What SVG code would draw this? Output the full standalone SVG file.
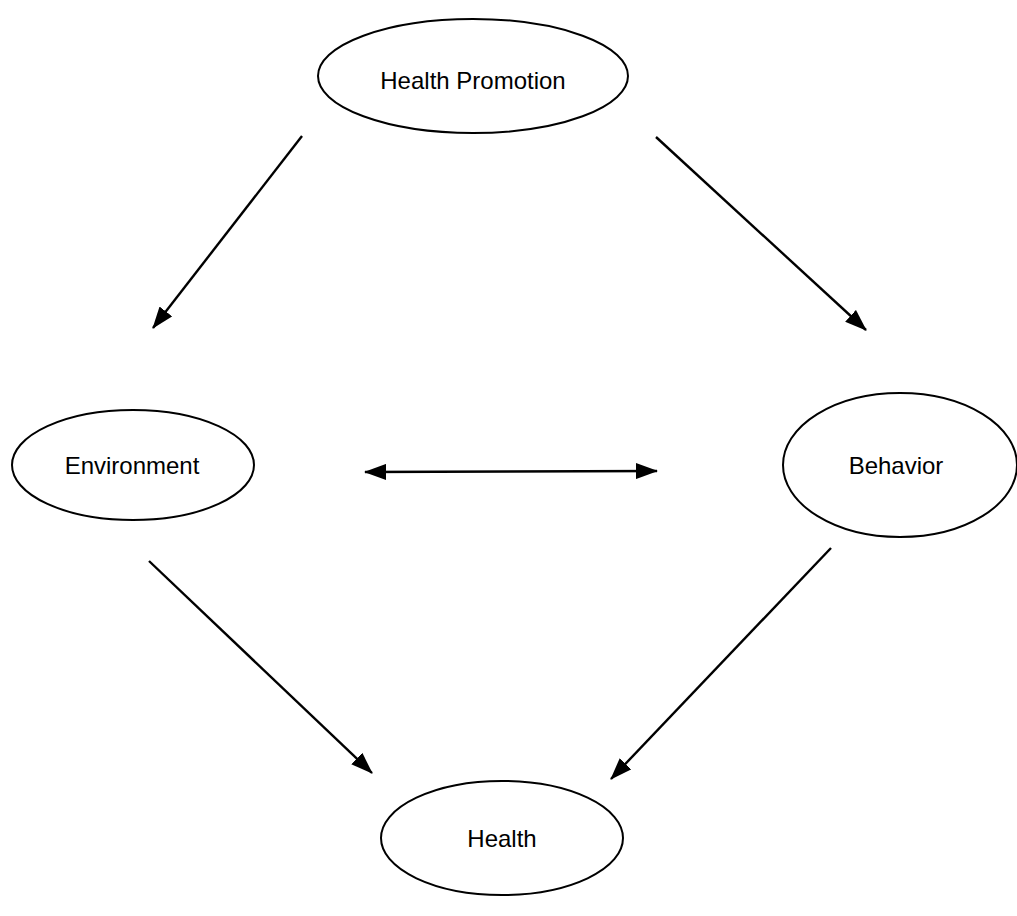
<svg xmlns="http://www.w3.org/2000/svg" width="1017" height="916" viewBox="0 0 1017 916">
<style>
.node ellipse{fill:#fff;stroke:#000;stroke-width:2}
.node text{font-family:"Liberation Sans",Arial,sans-serif;font-size:24px;fill:#000;text-anchor:middle;dominant-baseline:central}
.conn line{stroke:#000;stroke-width:2.4}
</style>
<defs>
<marker id="ah" viewBox="0 0 22 16" refX="21" refY="8" markerWidth="22" markerHeight="16" markerUnits="userSpaceOnUse" orient="auto-start-reverse">
<path d="M0,0 L22,8 L0,16 Z" fill="#000"/>
</marker>
</defs>
<rect width="1017" height="916" fill="#fff"/>
<g id="health-promotion" class="node">
<ellipse cx="473" cy="76" rx="155" ry="57"/>
<text x="473" y="80">Health Promotion</text>
</g>
<g id="environment" class="node">
<ellipse cx="133" cy="465" rx="121" ry="55"/>
<text x="132" y="465">Environment</text>
</g>
<g id="behavior" class="node">
<ellipse cx="900" cy="465" rx="117" ry="72"/>
<text x="896" y="465">Behavior</text>
</g>
<g id="health" class="node">
<ellipse cx="502" cy="838" rx="121" ry="57"/>
<text x="502" y="838">Health</text>
</g>
<g id="connectors" class="conn">
<line x1="302" y1="136" x2="153" y2="328" marker-end="url(#ah)"/>
<line x1="656" y1="137" x2="866" y2="330" marker-end="url(#ah)"/>
<line x1="365" y1="472" x2="657" y2="471" marker-start="url(#ah)" marker-end="url(#ah)"/>
<line x1="149" y1="561" x2="372" y2="773" marker-end="url(#ah)"/>
<line x1="831" y1="548" x2="611" y2="779" marker-end="url(#ah)"/>
</g>
</svg>
